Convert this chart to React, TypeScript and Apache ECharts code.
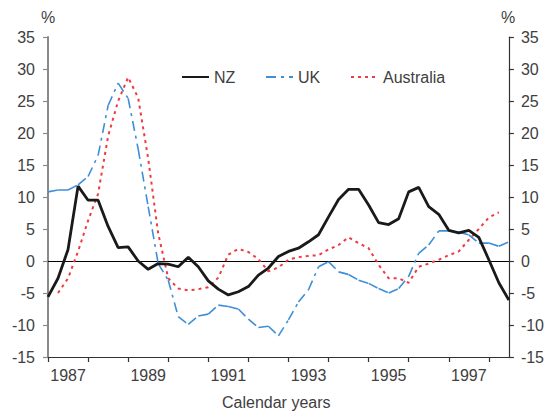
import React, { useEffect, useRef } from "react";
import * as echarts from "echarts";

// Quarterly categories, 1987 Q1 .. 1998 Q3
const years = [1987, 1988, 1989, 1990, 1991, 1992, 1993, 1994, 1995, 1996, 1997, 1998];
const categories: string[] = [];
years.forEach((y) => ["Q1", "Q2", "Q3", "Q4"].forEach((q) => categories.push(`${y}${q}`)));
categories.splice(47);

const nz = [
  -5.6, -2.7, 1.8, 11.7, 9.5, 9.5, 5.4, 2.1, 2.2, 0, -1.3, -0.4, -0.5, -0.9, 0.6, -0.9,
  -3.1, -4.4, -5.3, -4.8, -4.0, -2.2, -1.1, 0.7, 1.5, 2.0, 3.0, 4.1, 6.9, 9.6, 11.2, 11.2,
  8.75, 6.0, 5.7, 6.6, 10.8, 11.5, 8.5, 7.3, 4.8, 4.4, 4.8, 3.7, 0.2, -3.4, -6.1,
];
const uk = [
  10.8, 11.1, 11.1, 11.9, 13.2, 16.5, 24.3, 27.8, 25.4, 17.5, 8.5, -0.4, -3.0, -8.7, -9.9, -8.6,
  -8.3, -6.9, -7.1, -7.5, -9.1, -10.4, -10.2, -11.7, -9.2, -6.4, -4.5, -0.9, -0.1, -1.7, -2.1, -3.0,
  -3.5, -4.3, -5.0, -4.3, -2.4, 1.2, 2.5, 4.7, 4.7, 4.5, 4.1, 2.8, 2.8, 2.3, 3.0,
];
const australia: (number | null)[] = [
  null, -5.0, -2.7, 1.5, 6.3, 10.5, 19.5, 25, 28.7, 25.5, 16, 4.3, -2.7, -4.3, -4.6, -4.4,
  -4.1, -2.6, 1.0, 1.9, 1.4, 0.3, -1.6, -1.0, 0.2, 0.6, 0.8, 0.9, 1.8, 2.5, 3.7, 2.8,
  2.0, -0.6, -2.7, -2.7, -3.4, -0.9, -0.4, 0.2, 0.9, 1.5, 3.3, 5.0, 6.8, 7.6, null,
];

const Y_MIN = -15;
const Y_MAX = 35;
const Y_STEP = 5;

const BLACK = "#1a1a1a";
const BLUE = "#3f8ed8";
const RED = "#ee3b43";
const TEXT = "#404040";
const FONT = "Liberation Sans, Arial, sans-serif";

export default function App() {
  const ref = useRef<HTMLDivElement>(null);

  useEffect(() => {
    document.body.style.margin = "0";
    const chart = echarts.init(ref.current!, null, { renderer: "svg" });

    // UK drawn segment by segment so that its dash pattern restarts on each segment
    const ukSeries = uk.slice(0, -1).map((_, i) => ({
      name: "UK",
      type: "line",
      data: uk.map((v, j) => (j === i || j === i + 1 ? v : null)),
      symbol: "none",
      showSymbol: false,
      connectNulls: false,
      lineStyle: { color: BLUE, width: 1.6, type: [10, 5, 3, 5] },
      itemStyle: { color: BLUE },
      emphasis: { disabled: true },
      z: 3,
    }));

    const legendBase = {
      top: 64,
      itemWidth: 27,
      itemHeight: 14,
      itemStyle: { opacity: 0, borderWidth: 0 },
      textStyle: { fontSize: 16, color: TEXT, fontFamily: FONT },
      selectedMode: false,
    };

    chart.setOption({
      animation: false,
      textStyle: { fontFamily: FONT },
      grid: { left: 48, top: 37, right: 38, bottom: 55, containLabel: false },
      legend: [
        { ...legendBase, left: 176, data: ["NZ"] },
        { ...legendBase, left: 260, data: ["UK"] },
        { ...legendBase, left: 345, data: ["Australia"] },
      ],
      xAxis: {
        type: "category",
        data: categories,
        boundaryGap: false,
        axisLine: { show: true, onZero: false, lineStyle: { color: "#333", width: 1.2 } },
        axisTick: {
          show: true,
          length: 5,
          interval: (i: number) => i % 4 === 0,
          lineStyle: { color: "#333", width: 1.2 },
        },
        axisLabel: {
          interval: (i: number) => i % 8 === 2,
          formatter: (v: string) => v.slice(0, 4),
          fontSize: 16,
          color: TEXT,
          margin: 10,
          fontFamily: FONT,
        },
        splitLine: { show: false },
      },
      yAxis: [
        {
          type: "value",
          position: "left",
          min: Y_MIN,
          max: Y_MAX,
          interval: Y_STEP,
          axisLine: { show: true, lineStyle: { color: "#8a8a8a", width: 2 } },
          axisTick: { show: true, length: 5, lineStyle: { color: "#8a8a8a", width: 1.2 } },
          axisLabel: { fontSize: 16, color: TEXT, margin: 13, fontFamily: FONT },
          splitLine: { show: false },
        },
        {
          type: "value",
          position: "right",
          min: Y_MIN,
          max: Y_MAX,
          interval: Y_STEP,
          axisLine: { show: true, lineStyle: { color: "#333", width: 1.2 } },
          axisTick: { show: true, length: 5, lineStyle: { color: "#333", width: 1.2 } },
          axisLabel: { fontSize: 16, color: TEXT, margin: 12, fontFamily: FONT },
          splitLine: { show: false },
        },
      ],
      graphic: [
        {
          type: "text",
          left: 41,
          top: 9,
          style: { text: "%", font: `16px ${FONT}`, fill: TEXT },
        },
        {
          type: "text",
          left: 501,
          top: 9,
          style: { text: "%", font: `16px ${FONT}`, fill: TEXT },
        },
        {
          type: "text",
          left: 222,
          top: 394,
          style: { text: "Calendar years", font: `16px ${FONT}`, fill: TEXT },
        },
      ],
      series: [
        {
          name: "Australia",
          type: "line",
          data: australia,
          symbol: "none",
          showSymbol: false,
          connectNulls: false,
          lineStyle: { color: RED, width: 2, type: [3, 4] },
          itemStyle: { color: RED },
          emphasis: { disabled: true },
          z: 2,
        },
        ...ukSeries,
        {
          name: "NZ",
          type: "line",
          data: nz,
          symbol: "none",
          showSymbol: false,
          lineStyle: { color: BLACK, width: 2.8 },
          itemStyle: { color: BLACK },
          emphasis: { disabled: true },
          z: 4,
          markLine: {
            silent: true,
            symbol: ["none", "none"],
            label: { show: false },
            lineStyle: { color: "#000", width: 1, type: "solid" },
            data: [{ yAxis: 0 }],
            z: 1,
          },
        },
      ],
    });

    return () => chart.dispose();
  }, []);

  return <div ref={ref} style={{ width: 547, height: 412 }} />;
}
